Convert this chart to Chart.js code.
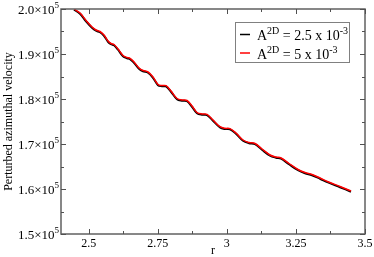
<!DOCTYPE html>
<html><head><meta charset="utf-8">
<script src="https://cdn.jsdelivr.net/npm/chart.js@4"></script>
<style>html,body{margin:0;padding:0;background:#fff}#wrap{width:374px;height:257px}</style>
</head><body><div id="wrap"><canvas id="c" width="374" height="257"></canvas></div>
<script>
const rValues = [2.447, 2.4688, 2.4905, 2.5122, 2.5266, 2.5411, 2.5556, 2.5701, 2.5809, 2.5918, 2.6063, 2.6243, 2.6388, 2.6497, 2.6641, 2.6822, 2.6967, 2.7148, 2.7329, 2.751, 2.7655, 2.7799, 2.798, 2.8197, 2.8378, 2.8559, 2.874, 2.8921, 2.9102, 2.9283, 2.95, 2.9753, 2.9934, 3.0115, 3.0332, 3.0586, 3.0803, 3.102, 3.1273, 3.1563, 3.178, 3.1961, 3.225, 3.2576, 3.2829, 3.3082, 3.3372, 3.3661, 3.4095, 3.4493];
const velA5 = [200000, 199111, 197444, 196000, 195333, 195000, 194222, 192889, 192333, 192111, 191111, 189667, 189222, 189044, 188222, 186889, 186333, 186000, 184889, 183222, 183000, 182950, 181778, 180111, 179778, 179667, 178444, 177000, 176667, 176600, 175333, 173844, 173489, 173422, 172444, 170889, 170333, 170111, 168889, 167556, 167111, 166889, 165667, 164333, 163667, 163222, 162444, 161622, 160556, 159556];
const velA25 = [199850, 198950, 197280, 195850, 195180, 194830, 194050, 192720, 192170, 191950, 190950, 189500, 189060, 188880, 188060, 186720, 186170, 185840, 184720, 183060, 182840, 182790, 181610, 179950, 179620, 179500, 178280, 176840, 176500, 176440, 175170, 173680, 173330, 173260, 172280, 170720, 170170, 169950, 168720, 167400, 166950, 166730, 165500, 164170, 163500, 163060, 162280, 161460, 160400, 159400];
const xMajorTicks = [2.5, 2.75, 3, 3.25, 3.5];
const xMinorTicks = [2.625, 2.875, 3.125, 3.375];
const xTickLabels = ['2.5', '2.75', '3', '3.25', '3.5'];
const yMajorTicks = [150000, 160000, 170000, 180000, 190000, 200000];
const yMinorTicks = [155000, 165000, 175000, 185000, 195000];
const yTickMantissa = ['1.5', '1.6', '1.7', '1.8', '1.9', '2.0'];
const yTickExponent = '5';
const legendEntries = [
  {color: '#000000', base: 'A', sup1: '2D', mid: ' = 2.5 x 10', sup2: '-3'},
  {color: '#ff0000', base: 'A', sup1: '2D', mid: ' = 5 x 10', sup2: '-3'}
];
const xTitle = 'r';
const yTitle = 'Perturbed azimuthal velocity';

const F = 'Liberation Serif, Times New Roman, serif';

const decor = {
  id: 'decor',
  afterDraw(chart) {
    const ctx = chart.ctx, a = chart.chartArea;
    const xs = chart.scales.x, ys = chart.scales.y;
    ctx.save();
    // frame
    ctx.strokeStyle = '#606060';
    ctx.lineWidth = 1.5;
    ctx.strokeRect(a.left, a.top, a.right - a.left, a.bottom - a.top);
    // ticks
    ctx.lineWidth = 1;
    ctx.strokeStyle = '#505050';
    const tickX = (vals, len) => vals.forEach(v => {
      const p = Math.round(xs.getPixelForValue(v)) + 0.5;
      ctx.beginPath(); ctx.moveTo(p, a.bottom); ctx.lineTo(p, a.bottom - len); ctx.stroke();
      ctx.beginPath(); ctx.moveTo(p, a.top); ctx.lineTo(p, a.top + len); ctx.stroke();
    });
    const tickY = (vals, len) => vals.forEach(v => {
      const p = Math.round(ys.getPixelForValue(v)) + 0.5;
      ctx.beginPath(); ctx.moveTo(a.left, p); ctx.lineTo(a.left + len, p); ctx.stroke();
      ctx.beginPath(); ctx.moveTo(a.right, p); ctx.lineTo(a.right - len, p); ctx.stroke();
    });
    tickX(xMajorTicks, 5); tickX(xMinorTicks, 3);
    tickY(yMajorTicks, 5); tickY(yMinorTicks, 3);
    // x labels
    ctx.fillStyle = '#000';
    ctx.font = '12px ' + F;
    ctx.textAlign = 'center'; ctx.textBaseline = 'alphabetic';
    xMajorTicks.forEach((v, i) => ctx.fillText(xTickLabels[i], xs.getPixelForValue(v), a.bottom + 13));
    // y labels
    yMajorTicks.forEach((v, i) => {
      const p = ys.getPixelForValue(v);
      ctx.font = '9px ' + F; ctx.textAlign = 'left';
      const supW = ctx.measureText(yTickExponent).width;
      const right = a.left - 2;
      ctx.fillText(yTickExponent, right - supW, p - 1);
      ctx.font = '13px ' + F; ctx.textAlign = 'right';
      ctx.fillText(yTickMantissa[i] + '\u00d710', right - supW, p + 5);
    });
    // axis titles
    ctx.font = '12px ' + F; ctx.textAlign = 'center';
    ctx.fillText(xTitle, (a.left + a.right) / 2, 254);
    ctx.save();
    ctx.translate(12, (a.top + a.bottom) / 2);
    ctx.rotate(-Math.PI / 2);
    ctx.fillText(yTitle, 0, 0);
    ctx.restore();
    // legend
    const lx = 235.5, ly = 22.5, lw = 114, lh = 40;
    ctx.fillStyle = '#fff';
    ctx.fillRect(lx, ly, lw, lh);
    ctx.strokeStyle = '#808080'; ctx.lineWidth = 1;
    ctx.strokeRect(lx, ly, lw, lh);
    legendEntries.forEach((e, i) => {
      const base = 40 + i * 18.5;
      ctx.strokeStyle = e.color; ctx.lineWidth = 1.5;
      ctx.beginPath(); ctx.moveTo(240, base - 5.5); ctx.lineTo(250, base - 5.5); ctx.stroke();
      ctx.fillStyle = '#000'; ctx.textAlign = 'left';
      let x = 257;
      ctx.font = '14px ' + F; ctx.fillText(e.base, x, base); x += ctx.measureText(e.base).width;
      ctx.font = '10px ' + F; ctx.fillText(e.sup1, x, base - 6); x += ctx.measureText(e.sup1).width;
      ctx.font = '14px ' + F; ctx.fillText(e.mid, x, base); x += ctx.measureText(e.mid).width;
      ctx.font = '10px ' + F; ctx.fillText(e.sup2, x, base - 6);
    });
    ctx.restore();
  }
};

new Chart(document.getElementById('c'), {
  type: 'line',
  data: {
    datasets: [
      {label: 'A2D = 2.5e-3', data: rValues.map((r, i) => ({x: r, y: velA25[i]})), borderColor: '#000', borderWidth: 2, pointRadius: 0, tension: 0.35, order: 2},
      {label: 'A2D = 5e-3', data: rValues.map((r, i) => ({x: r, y: velA5[i]})), borderColor: '#ff0000', borderWidth: 1.5, pointRadius: 0, tension: 0.35, order: 1}
    ]
  },
  options: {
    responsive: false, animation: false, devicePixelRatio: 1,
    layout: {padding: {left: 0, right: 9, top: 9, bottom: 0}},
    plugins: {legend: {display: false}, tooltip: {enabled: false}},
    scales: {
      x: {type: 'linear', min: 2.4, max: 3.5, grid: {display: false}, border: {display: false}, ticks: {display: false},
          afterFit(s) { s.height = 23; }},
      y: {type: 'linear', min: 150000, max: 200000, grid: {display: false}, border: {display: false}, ticks: {display: false},
          afterFit(s) { s.width = 61; }}
    }
  },
  plugins: [decor]
});
</script></body></html>
